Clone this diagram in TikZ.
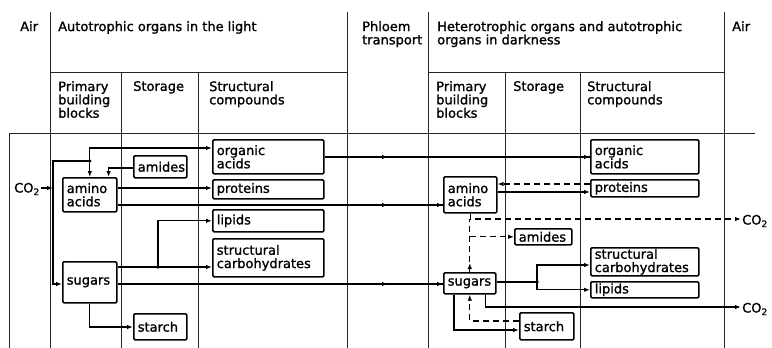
\documentclass[tikz,border=0pt]{standalone}
\usepackage{fontspec}
\setmainfont{DejaVu Sans}
\usetikzlibrary{arrows.meta}
\begin{document}
\begin{tikzpicture}[x=1pt,y=-1pt,
  every node/.style={font=\fontsize{13}{13.3}\selectfont\addfontfeature{FakeBold=1.2}},
  grid/.style={line width=0.7pt, black!85},
  hdr/.style={anchor=north west, inner sep=0pt, align=left},
  box/.style={draw, line width=1.6pt, rounded corners=1.2pt, anchor=north west, align=left, inner xsep=4pt, inner ysep=1pt},
  flow/.style={line width=1.2pt},
  arr/.style={flow, -{Latex[length=6pt,width=4.5pt]}},
  dsh/.style={flow, dash pattern=on 6pt off 4pt},
  darr/.style={dsh, -{Latex[length=6pt,width=4.5pt]}},
  jdot/.style={circle, fill, inner sep=0pt, minimum size=3.5pt}
]
\useasboundingbox (0,0) rectangle (772,348);

% table lines
\draw[grid] (50,12) -- (50,348);
\draw[grid] (347,12) -- (347,348);
\draw[grid] (428,12) -- (428,348);
\draw[grid] (724,12) -- (724,348);
\draw[grid] (121,72) -- (121,348);
\draw[grid] (198,72) -- (198,348);
\draw[grid] (505,72) -- (505,348);
\draw[grid] (580,72) -- (580,348);
\draw[grid] (50,72) -- (347,72);
\draw[grid] (428,72) -- (724,72);
\draw[grid] (9,133) -- (755,133);
\draw[grid] (9,133) -- (9,348);

% headers
\node[hdr] (airL) at (20,21) {Air};
\node[hdr] (autoH) at (58,21) {Autotrophic organs in the light};
\node[hdr] (phlH) at (362,21) {Phloem\\transport};
\node[hdr] (hetH) at (437,21) {Heterotrophic organs and autotrophic\\organs in darkness};
\node[hdr] (airR) at (732,21) {Air};
\node[hdr] (primL) at (58,81) {Primary\\building\\blocks};
\node[hdr] (storL) at (133,81) {Storage};
\node[hdr] (strL) at (209,81) {Structural\\compounds};
\node[hdr] (primR) at (436,81) {Primary\\building\\blocks};
\node[hdr] (storR) at (513,81) {Storage};
\node[hdr] (strR) at (587,81) {Structural\\compounds};

% left boxes
\node[box, minimum width=111, minimum height=34, text width=103] (oaL) at (212,139) {organic\\acids};
\node[box, minimum width=53, minimum height=22, text width=45] (amL) at (133,155) {amides};
\node[box, minimum width=54, minimum height=34, text width=46] (aaL) at (62,177) {amino\\acids};
\node[box, minimum width=111, minimum height=19, text width=103] (prL) at (212,179) {proteins};
\node[box, minimum width=111, minimum height=22, text width=103] (liL) at (212,209) {lipids};
\node[box, minimum width=111, minimum height=38, text width=103] (scL) at (212,238) {structural\\carbohydrates};
\node[box, minimum width=54, minimum height=41, text width=46] (suL) at (62,261) {sugars};
\node[box, minimum width=53, minimum height=26, text width=45] (stL) at (133,313) {starch};

% right boxes
\node[box, minimum width=108, minimum height=34, text width=100] (oaR) at (590,139) {organic\\acids};
\node[box, minimum width=108, minimum height=17, text width=100] (prR) at (590,179) {proteins};
\node[box, minimum width=53, minimum height=36, text width=45] (aaR) at (443,176) {amino\\acids};
\node[box, minimum width=57, minimum height=16, text width=49] (amR) at (514,228) {amides};
\node[box, minimum width=108, minimum height=28, text width=100] (scR) at (590,247) {structural\\carbohydrates};
\node[box, minimum width=108, minimum height=16, text width=100] (liR) at (590,281) {lipids};
\node[box, minimum width=52, minimum height=21, text width=44] (suR) at (443,272) {sugars};
\node[box, minimum width=54, minimum height=27, text width=46] (stR) at (519,312) {starch};

% CO2 labels
\node[anchor=west, inner sep=1pt] (co2L) at (13,189) {CO\textsubscript{2}};
\node[anchor=west, inner sep=1pt] (co2R1) at (741,221) {CO\textsubscript{2}};
\node[anchor=west, inner sep=1pt] (co2R2) at (741,309) {CO\textsubscript{2}};

% coordinates
\coordinate (jL) at (53,188);
\coordinate (ph1) at (388,157);
\coordinate (ph2) at (388,205);
\coordinate (ph3) at (388,284);
\node[jdot] (d1) at (aaL.north |- 0,161) {};
\node[jdot] (d2) at (158,267) {};
\node[jdot] (d3) at (537,282) {};

% left connectors
\draw[arr] (co2L.east |- jL) -- (jL);
\draw[arr] (jL) |- (d1.center) -- (aaL.north);
\draw[arr] (d1.center) -- (aaL.north |- 0,148) -- (oaL.west |- 0,148);
\draw[arr] (jL) |- (suL.west |- 0,284);
\draw[arr] (amL.west |- 0,168) -| ([xshift=-9pt]aaL.north east);
\draw[arr] (aaL.east |- 0,188) -- (prL.west |- 0,188);
\draw[arr] (suL.east |- d2) -- (d2.center) -- (scL.west |- d2);
\draw[arr] (d2.center) |- (liL.west);
\draw[arr] (suL.south) |- (stL.west |- 0,327);

% phloem transport
\draw[flow] (oaL.east |- ph1) -- (oaR.west |- ph1);
\draw[arr] (oaL.east |- ph1) -- (ph1);
\draw[arr] (ph1) -- (oaR.west |- ph1);
\draw[flow] (aaL.east |- ph2) -- (aaR.west |- ph2);
\draw[arr] (aaL.east |- ph2) -- (ph2);
\draw[arr] (ph2) -- (aaR.west |- ph2);
\draw[flow] (suL.east |- ph3) -- (suR.west |- ph3);
\draw[arr] (suL.east |- ph3) -- (ph3);
\draw[arr] (ph3) -- (suR.west |- ph3);

% right connectors
\draw[darr] (prR.west |- 0,184) -- (aaR.east |- 0,184);
\draw[arr] (aaR.east |- 0,192) -- (prR.west |- 0,192);
\draw[darr] (aaR.south) |- (co2R1.west |- 0,219);
\draw[dsh] (suR.north) -- (suR.north |- 0,219);
\draw[arr] (suR.north) -- ++(0,-9);
\draw[darr] (suR.north |- amR.west) -- (amR.west);
\draw[flow] (suR.east |- d3) -- (d3.center);
\draw[arr] (d3.center) |- (scR.west |- 0,265);
\draw[arr] (d3.center) |- (liR.west);
\draw[arr] ([xshift=-11pt]suR.south east) |- (co2R2.west |- 0,307);
\draw[arr] ([xshift=11pt]suR.south west) |- (stR.west |- 0,330);
\draw[darr] (stR.west |- 0,321) -| (suR.south);
\end{tikzpicture}
\end{document}
